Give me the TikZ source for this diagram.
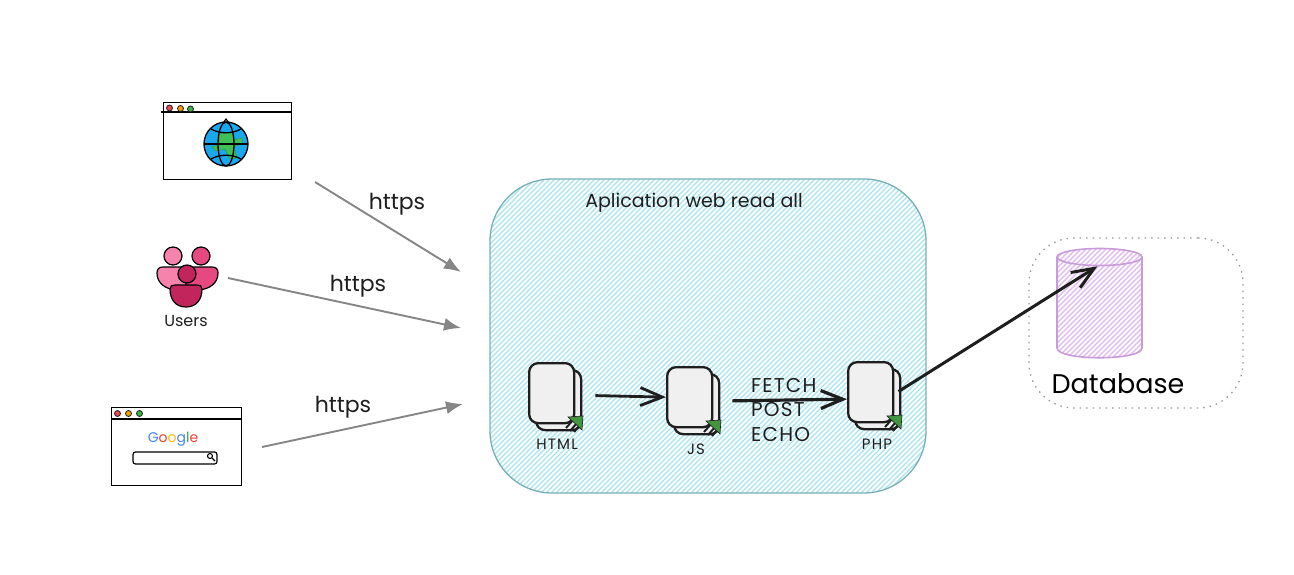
\documentclass[tikz,border=0pt]{standalone}
\usepackage{fontspec}
\setmainfont{Poppins}
\usepackage{tikz}
\usetikzlibrary{shapes.geometric, arrows.meta, positioning}
\definecolor{inkc}{HTML}{1E1E1E}
\definecolor{tealline}{HTML}{78B0B9}
\definecolor{tealhatch}{HTML}{A5E3EE}
\definecolor{purpleline}{HTML}{C89BDB}
\definecolor{purplehatch}{HTML}{E3BCF1}
\definecolor{arrowgray}{HTML}{868686}
\definecolor{leafgreen}{HTML}{43963F}
\definecolor{pagefill}{HTML}{F0F0F0}
\definecolor{dotred}{HTML}{E8484E}
\definecolor{dotorange}{HTML}{F2A100}
\definecolor{dotgreen}{HTML}{3CB043}
\definecolor{globeblue}{HTML}{1AA7EC}
\definecolor{landgreen}{HTML}{40C057}
\definecolor{pinklight}{HTML}{F783AC}
\definecolor{pinkmid}{HTML}{E64980}
\definecolor{pinkdark}{HTML}{C2255C}
\definecolor{gblue}{HTML}{4285F4}
\definecolor{gred}{HTML}{EA4335}
\definecolor{gyellow}{HTML}{FBBC05}
\definecolor{ggreen}{HTML}{34A853}
\tikzstyle{appbox} = [rectangle, draw=tealline, line width=1.3pt, rounded corners=62pt, minimum width=436pt, minimum height=314pt, inner sep=0pt, path picture={
  \foreach \i in {-400,-395,...,400}
    \draw[tealhatch, line width=1.2pt] (\i-300,300) -- ++(600,-600);
}]
\tikzstyle{dbbox} = [rectangle, draw=gray!80, line width=1.3pt, dash pattern=on 1.5pt off 5pt, rounded corners=45pt, minimum width=214pt, minimum height=170pt, inner sep=0pt]
\tikzstyle{dbtopstyle} = [ellipse, draw=purpleline, line width=1.6pt, minimum width=85pt, minimum height=17pt, inner sep=0pt]
\tikzstyle{window} = [rectangle, draw=black, line width=1.4pt, fill=white, inner sep=0pt, anchor=north west]
\tikzstyle{pagefront} = [rectangle, draw=inkc, line width=2.3pt, fill=pagefill, rounded corners=9pt, minimum width=45pt, minimum height=60pt, inner sep=0pt, anchor=north west]
\tikzstyle{lbl} = [inner sep=0pt, text=inkc]
\tikzstyle{small} = [lbl, font=\fontsize{15}{15}\selectfont\addfontfeature{LetterSpace=8}]
\tikzstyle{verb} = [lbl, anchor=west, font=\fontsize{20}{20}\selectfont\addfontfeature{LetterSpace=6}]
\tikzstyle{proto} = [lbl, font=\fontsize{22}{22}\selectfont]
\tikzstyle{https} = [-{Latex[length=17pt,width=13pt]}, arrowgray, line width=1.9pt]
\tikzstyle{reg} = [-{Straight Barb[length=22pt,width=18pt]}, inkc, line width=2.8pt]
\tikzstyle{dot} = [circle, draw=inkc, line width=.8pt, minimum size=6pt, inner sep=0pt]
\tikzstyle{person} = [draw=black, line width=1.2pt]

% back sheet, front sheet, green corner
\newcommand{\docicon}[3]{
  \node[pagefront] (#1back) at (#2+7,#3+7) {};
  \node[pagefront] (#1) at (#2,#3) {};
  \draw[inkc, line width=2pt] (#2+38,#3+66) -- ++(8,-9) (#2+42,#3+69) -- ++(7,-8) (#2+46,#3+70) -- ++(6,-7);
  \fill[leafgreen, draw=inkc, line width=.6pt] (#2+40,#3+55) -- (#2+55,#3+54) -- (#2+54,#3+68) -- cycle;
}

\begin{document}
\begin{tikzpicture}[x=1pt, y=-1pt]
  \useasboundingbox (0,0) rectangle (1294,575);

  % application box
  \node[appbox] (app) at (708,336) {};
  \node[lbl, font=\fontsize{19}{19}\selectfont] (apptitle) at (694,203) {Aplication web read all};

  % database box
  \node[dbbox] (dbarea) at (1136,323) {};
  \begin{scope}
    \clip (1057,257) -- (1057,348) .. controls (1057,361) and (1142,361) .. (1142,348) -- (1142,257)
      .. controls (1142,245) and (1057,245) .. (1057,257) -- cycle;
    \foreach \i in {1300,1305,...,1500}
      \draw[purplehatch, line width=1.4pt] (\i-400,400) -- ++(400,-400);
  \end{scope}
  \draw[purpleline, line width=1.6pt] (1057,257) -- (1057,348) .. controls (1057,361) and (1142,361) .. (1142,348) -- (1142,257);
  \node[dbtopstyle] (db) at (1099.5,257) {};
  \node[lbl, text=black, font=\fontsize{27}{27}\selectfont] (dblabel) at (1118,384) {Database};

  % first browser
  \node[window, minimum width=128pt, minimum height=77pt] (browser) at (163,102) {};
  \coordinate (browserbarL) at (161,112);
  \coordinate (browserbarR) at (291,112);
  \draw[black, line width=1.6pt] (browserbarL) -- (browserbarR);
  \node[dot, fill=dotred] (bd1) at (169.5,108) {};
  \node[dot, fill=dotorange] (bd2) at (180.5,108.5) {};
  \node[dot, fill=dotgreen] (bd3) at (190.5,109) {};

  % globe
  \begin{scope}[shift={(226,144)}]
    \fill[globeblue] (0,0) circle (22);
    \fill[landgreen, draw=landgreen!80!black, line width=.5pt]
      (-7,-10) -- (6,-12) -- (8,-4) -- (16,-6) -- (16,-1) -- (8,3) -- (11,14) -- (4,15)
      -- (-1,5) -- (-10,7) -- (-14,3) -- (-7,1) -- cycle;
    \draw[black, line width=1.3pt] (0,0) circle (22);
    \draw[black, line width=1.3pt] (0,0) ellipse (8 and 22);
    \draw[black, line width=1.3pt] (-22,0) -- (22,0);
    \draw[black, line width=1.3pt] (-15,-15) .. controls (-6,-10) and (6,-10) .. (15,-15);
    \draw[black, line width=1.3pt] (-15,15) .. controls (-6,10) and (6,10) .. (15,15);
    \draw[black, line width=1.1pt] (-3,-21) -- (0,-25) -- (3,-21);
  \end{scope}

  % users
  \draw[person, fill=pinklight] (173,256) circle (9);
  \draw[person, fill=pinkmid] (201,256) circle (9);
  \draw[person, fill=pinklight] (157,273) .. controls (157,269) and (159,267) .. (163,267)
    -- (190,267) -- (190,290) -- (176,290) .. controls (165,289) and (157,283) .. (157,273) -- cycle;
  \draw[person, fill=pinkmid] (218,273) .. controls (218,269) and (216,267) .. (212,267)
    -- (186,267) -- (186,290) -- (199,290) .. controls (210,289) and (218,283) .. (218,273) -- cycle;
  \draw[person, fill=pinkdark] (187,274) circle (9);
  \draw[person, fill=pinkdark] (170,289) .. controls (170,286) and (172,285) .. (175,285)
    -- (197,285) .. controls (200,285) and (202,286) .. (202,289)
    .. controls (202,300) and (196,307) .. (186,307) .. controls (176,307) and (170,300) .. (170,289) -- cycle;
  \node[lbl, font=\fontsize{16}{16}\selectfont] (users) at (186,321) {Users};

  % google browser
  \node[window, minimum width=130pt, minimum height=78pt] (google) at (111,407) {};
  \coordinate (googlebarL) at (111,419);
  \coordinate (googlebarR) at (241,419);
  \draw[black, line width=1.6pt] (googlebarL) -- (googlebarR);
  \node[dot, fill=dotred] (gd1) at (117.5,413.5) {};
  \node[dot, fill=dotorange] (gd2) at (128.5,413.5) {};
  \node[dot, fill=dotgreen] (gd3) at (139.5,413.5) {};
  \node[lbl, font=\fontsize{14}{14}\selectfont] (googleword) at (173,439)
    {\textcolor{gblue}{G}\textcolor{gred}{o}\textcolor{gyellow}{o}\textcolor{gblue}{g}\textcolor{ggreen}{l}\textcolor{gred}{e}};
  \node[rectangle, draw=black, line width=1.2pt, rounded corners=2.5pt, minimum width=84pt, minimum height=12pt, inner sep=0pt] (search) at (175,458) {};
  \draw[black, line width=1.1pt] (210,456) circle (2.5);
  \draw[black, line width=1.2pt] (212,458) -- (215,461);

  % sheets
  \docicon{html}{528}{362}
  \docicon{js}{666}{366}
  \docicon{php}{847}{361}
  \node[small] (htmllabel) at (557,444) {HTML};
  \node[small] (jslabel) at (696,449) {JS};
  \node[small] (phplabel) at (877,444) {PHP};

  % texts
  \node[proto] (https1) at (397,204) {https};
  \node[proto] (https2) at (358,286) {https};
  \node[proto] (https3) at (343,407) {https};
  \node[verb] (fetch) at (751,385) {FETCH};
  \node[verb] (post) at (751,410) {POST};
  \node[verb] (echo) at (751,435) {ECHO};

  % free ends
  \coordinate (browserout) at (315,182);
  \coordinate (usersout) at (228,278);
  \coordinate (googleout) at (262,447);
  \coordinate (appin1) at (461,272);
  \coordinate (appin2) at (461,328);
  \coordinate (appin3) at (463,404);

  % paths
  \draw[https] (browserout) -- (appin1);
  \draw[https] (usersout) -- (appin2);
  \draw[https] (googleout) -- (appin3);
  \draw[reg, shorten <=20pt] ([yshift=-2pt]html.east) -- (js.west);
  \draw[reg, shorten <=19pt, line width=3.2pt] ([yshift=-4pt]js.east) -- ([yshift=-7pt]php.west);
  \draw[reg, shorten <=5pt, line width=3pt] ([yshift=-2pt]php.east) -- (db.-103);
\end{tikzpicture}
\end{document}
